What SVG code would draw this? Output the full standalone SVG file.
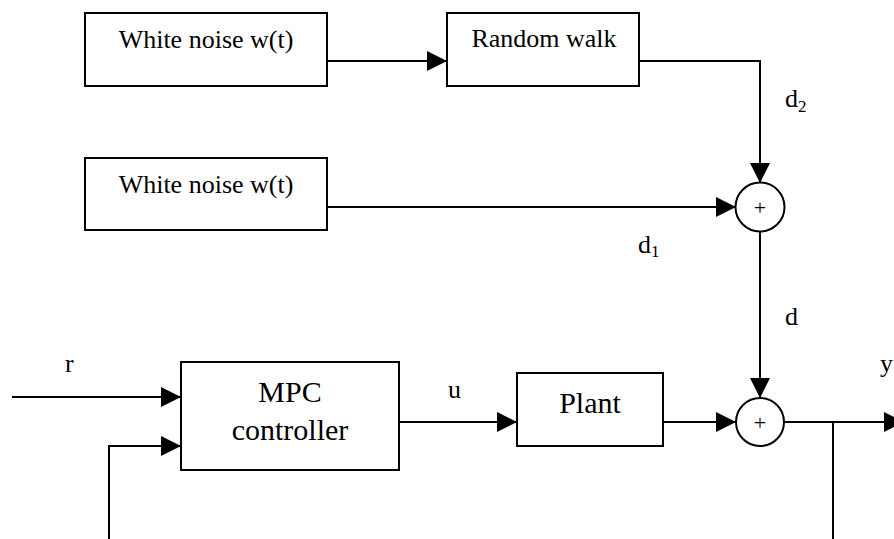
<svg xmlns="http://www.w3.org/2000/svg" width="894" height="539" viewBox="0 0 894 539">
  <style>
    .blk { fill: #fff; stroke: #000; stroke-width: 2; }
    .wire { fill: none; stroke: #000; stroke-width: 2; }
    .lbl { font-family: "Liberation Serif", "Times New Roman", serif; fill: #000; }
    .t26 { font-size: 26px; }
    .t30 { font-size: 30px; }
    .sub { font-size: 17px; }
    .plus { font-family: "Liberation Serif", "Times New Roman", serif; font-size: 22px; }
  </style>
  <defs>
    <marker id="arrow" markerUnits="userSpaceOnUse" markerWidth="20" markerHeight="20" refX="20" refY="10" orient="auto" overflow="visible">
      <path d="M0,0 L20,10 L0,20 Z" fill="#000"/>
    </marker>
  </defs>
  <rect width="894" height="539" fill="#fff"/>

  <!-- signal connections -->
  <g id="connectors">
    <!-- white noise -> random walk -->
    <path class="wire" d="M327,61 H447" marker-end="url(#arrow)"/>
    <!-- random walk -> upper summing junction (d2) -->
    <path class="wire" d="M639,61 H760 V183" marker-end="url(#arrow)"/>
    <!-- second white noise -> upper summing junction (d1) -->
    <path class="wire" d="M327,207 H736" marker-end="url(#arrow)"/>
    <!-- upper junction -> lower junction (d) -->
    <path class="wire" d="M760,231 V398" marker-end="url(#arrow)"/>
    <!-- reference input r -->
    <path class="wire" d="M12,397 H181" marker-end="url(#arrow)"/>
    <!-- feedback into controller -->
    <path class="wire" d="M109,545 V446 H181" marker-end="url(#arrow)"/>
    <!-- controller -> plant (u) -->
    <path class="wire" d="M399,422 H517" marker-end="url(#arrow)"/>
    <!-- plant -> lower junction -->
    <path class="wire" d="M663,422 H736" marker-end="url(#arrow)"/>
    <!-- output y -->
    <path class="wire" d="M784,422 H904" marker-end="url(#arrow)"/>
    <!-- output feedback tap -->
    <path class="wire" d="M833,422 V545"/>
  </g>

  <g id="noise1">
    <rect class="blk" x="85" y="13" width="242" height="73"/>
    <text class="lbl t26" x="206" y="48" text-anchor="middle">White noise w(t)</text>
  </g>

  <g id="random-walk">
    <rect class="blk" x="447" y="13" width="192" height="73"/>
    <text class="lbl t26" x="544" y="47" text-anchor="middle">Random walk</text>
  </g>

  <g id="noise2">
    <rect class="blk" x="85" y="158" width="242" height="72"/>
    <text class="lbl t26" x="206" y="193" text-anchor="middle">White noise w(t)</text>
  </g>

  <g id="sum1">
    <circle class="blk" cx="760" cy="207" r="24.5"/>
    <text class="plus" x="760" y="215" text-anchor="middle">+</text>
  </g>

  <g id="mpc">
    <rect class="blk" x="181" y="362" width="218" height="108"/>
    <text class="lbl t30" x="290" y="402" text-anchor="middle">MPC</text>
    <text class="lbl t30" x="290" y="440" text-anchor="middle">controller</text>
  </g>

  <g id="plant">
    <rect class="blk" x="517" y="373" width="146" height="73"/>
    <text class="lbl t30" x="590" y="413" text-anchor="middle">Plant</text>
  </g>

  <g id="sum2">
    <circle class="blk" cx="760" cy="422" r="24"/>
    <text class="plus" x="760" y="430" text-anchor="middle">+</text>
  </g>

  <!-- signal labels -->
  <g id="labels">
    <text class="lbl t26" x="785" y="107">d<tspan class="sub" dy="5">2</tspan></text>
    <text class="lbl t26" x="638" y="253">d<tspan class="sub" dy="4">1</tspan></text>
    <text class="lbl t26" x="785" y="325">d</text>
    <text class="lbl t26" x="65" y="372">r</text>
    <text class="lbl t26" x="448" y="398">u</text>
    <text class="lbl t26" x="880" y="372">y</text>
  </g>
</svg>
